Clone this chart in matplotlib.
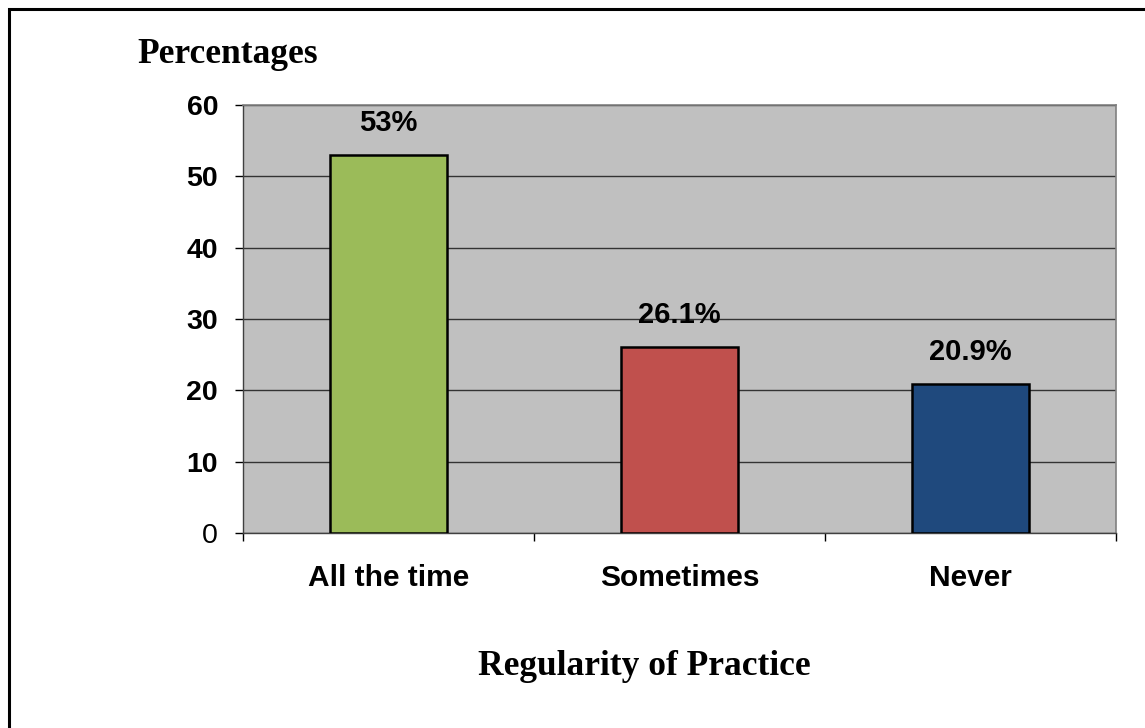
import matplotlib
matplotlib.use("Agg")
import matplotlib.pyplot as plt
from matplotlib.patches import Rectangle
import numpy as np

categories = ["All the time", "Sometimes", "Never"]
values = [53.0, 26.1, 20.9]
value_labels = ["53%", "26.1%", "20.9%"]
bar_colors = ["#9BBB59", "#C0504D", "#1F497D"]
yticks = [0, 10, 20, 30, 40, 50, 60]

fig = plt.figure(figsize=(11.45, 7.28), dpi=100)
fig.patch.set_facecolor("white")
ax = fig.add_axes([243/1145, 1 - 533/728, (1116-243)/1145, (533-105)/728])
ax.set_facecolor("#C0C0C0")

x = np.arange(len(categories))
ax.bar(x, values, width=0.40, color=bar_colors, edgecolor="black", linewidth=1.8, zorder=3)

for xi, v, lab in zip(x, values, value_labels):
    ax.annotate(lab, (xi, v), xytext=(0, 17), textcoords="offset points",
                ha="center", va="baseline", fontsize=21, fontweight="bold",
                family="Liberation Sans", color="black")

ax.set_xlim(-0.5, len(categories) - 0.5)
ax.set_ylim(0, 60)
ax.set_yticks(yticks)
ax.yaxis.grid(True, color="#333333", linewidth=1.0, zorder=1)
ax.set_axisbelow(True)

ax.set_xticks(x)
ax.set_xticklabels(categories, fontsize=21.5, fontweight="bold", family="Liberation Sans")
ax.set_xticks(np.arange(-0.5, len(categories)), minor=True)
ax.tick_params(axis="x", which="major", length=0, pad=22)
ax.tick_params(axis="x", which="minor", length=6, width=1, color="black", direction="out")
ax.tick_params(axis="y", length=6, width=1, color="black", direction="out", pad=12)
ylabels = ax.set_yticklabels([str(t) for t in yticks], fontsize=20.5, family="Liberation Sans")
for t, lbl in zip(yticks, ylabels):
    lbl.set_fontweight("normal" if t == 0 else "bold")

for side in ["top", "right"]:
    ax.spines[side].set_color("#808080")
    ax.spines[side].set_linewidth(1.2)
ax.spines["left"].set_color("#404040")
ax.spines["bottom"].set_color("#404040")
ax.spines["left"].set_linewidth(1.0)
ax.spines["bottom"].set_linewidth(1.0)

fig.text(137/1145, 1 - 63/728, "Percentages", ha="left", va="baseline",
         fontsize=25.5, fontweight="bold", family="Liberation Serif")
fig.text(644/1145, 1 - 675/728, "Regularity of Practice", ha="center", va="baseline",
         fontsize=25.5, fontweight="bold", family="Liberation Serif")

fig.patches.append(Rectangle((9/1145, -0.2), 1.5, 1 - 9/728 + 0.2,
                             transform=fig.transFigure, fill=False,
                             edgecolor="black", linewidth=2.2, zorder=10))

fig.savefig("out.png", dpi=100)
